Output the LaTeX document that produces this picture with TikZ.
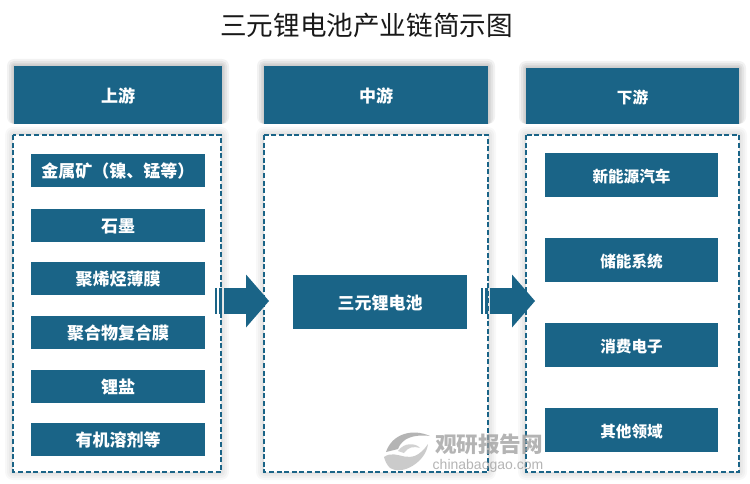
\documentclass[tikz,border=0pt]{standalone}
\usepackage{fontspec}
\setmainfont{Noto Sans CJK SC}
\newfontfamily\latinf{Liberation Sans}
\usetikzlibrary{calc}
\definecolor{teal}{HTML}{1A6487}
\definecolor{wm}{HTML}{9C9C9C}
\tikzset{
  x=1pt,y=-1pt,
  header/.style={fill=teal,text=white,font=\fontsize{17}{17}\selectfont\bfseries,inner sep=0pt,outer sep=0pt},
  item/.style={fill=teal,text=white,font=\fontsize{17}{17}\selectfont\bfseries,inner sep=0pt,outer sep=0pt},
  smallitem/.style={item,font=\fontsize{15.6}{16}\selectfont\bfseries},
  panel/.style={draw=teal,line width=1.2pt,dash pattern=on 5pt off 2.6pt,fill=white},
  bigarrow/.pic={
    \fill[teal] (-31,-13) rectangle (-9,13);
    \fill[teal] (-9,-26.5) -- (14,0) -- (-9,26.5) -- cycle;
    \fill[teal] (-40,-13) rectangle (-38.5,13);
    \fill[teal] (-36.5,-13) rectangle (-33,13);
  }
}
\newcommand{\softshadow}[4]{%
  \foreach \k in {8,6,4,2}{%
    \fill[black,opacity=0.028,rounded corners=\k pt] (#1-\k,#2-\k) rectangle (#3+\k,#4+\k);}}
\newcommand{\headshadow}[4]{%
  \foreach \k in {7,5,3,1.5}{%
    \fill[black,opacity=0.05,rounded corners=\k pt] (#1-\k,#2-\k) rectangle (#3+\k,#4);}}
\newcommand{\boxat}[7]{\node[#1,minimum width=#4-#2,minimum height=#5-#3,anchor=north west] (#6) at (#2,#3) {\raisebox{-7.2pt}[0pt][0pt]{#7}};}
\begin{document}
\begin{tikzpicture}
\useasboundingbox (0,0) rectangle (750,484);
\fill[white] (0,0) rectangle (750,484);
\softshadow{13}{135}{221}{472}
\softshadow{264}{135}{488}{472}
\softshadow{526}{135}{739}{472}
\headshadow{14}{66}{222}{124}
\headshadow{264}{66}{488}{124}
\headshadow{526}{68}{739}{124}

\node[font=\fontsize{26.6}{27}\selectfont,text=black!90,anchor=center] (title) at (366.5,25) {三元锂电池产业链简示图};

\boxat{header}{14}{66}{222}{124}{hup}{上游}
\boxat{header}{264}{66}{488}{124}{hmid}{中游}
\boxat{smallitem}{526}{68}{739}{124}{hdown}{下游}

\draw[panel] (13,135) rectangle (221,472);
\draw[panel] (264,135) rectangle (488,472);
\draw[panel] (526,135) rectangle (739,472);

\boxat{item}{31}{154}{205}{187}{a1}{金属矿（镍、锰等）}
\boxat{item}{31}{209}{205}{242}{a2}{石墨}
\boxat{item}{31}{262}{205}{295}{a3}{聚烯烃薄膜}
\boxat{item}{31}{316}{205}{349}{a4}{聚合物复合膜}
\boxat{item}{31}{370}{205}{403}{a5}{锂盐}
\boxat{item}{31}{423}{205}{456}{a6}{有机溶剂等}

\boxat{item}{293}{275}{467}{329}{b1}{三元锂电池}

\boxat{smallitem}{545}{153}{718}{197}{c1}{新能源汽车}
\boxat{smallitem}{545}{238}{718}{282}{c2}{储能系统}
\boxat{smallitem}{545}{323}{718}{367}{c3}{消费电子}
\boxat{smallitem}{545}{408}{718}{452}{c4}{其他领域}

\pic at (255,301) {bigarrow};
\pic at (521,301) {bigarrow};

% watermark
\begin{scope}[opacity=.75]
\fill[wm] (386,452) .. controls (392,434) and (412,428) .. (430,436) .. controls (414,434) and (402,438) .. (398,449) .. controls (394,450) and (390,451) .. (386,452) -- cycle;
\fill[wm!70] (384,457) .. controls (398,447) and (410,470) .. (428,444) .. controls (426,462) and (402,476) .. (390,468) .. controls (387,465) and (385,461) .. (384,457) -- cycle;
\fill[wm!60] (398,451) .. controls (404,442) and (416,443) .. (420,448) .. controls (414,446) and (408,447) .. (404,453) -- cycle;
\node[font=\fontsize{21.6}{22}\selectfont\bfseries,text=wm,anchor=center,inner sep=0pt] (wmcn) at (489,444) {观研报告网};
\node[font=\fontsize{14}{14}\selectfont\latinf,text=wm,anchor=center,inner sep=0pt] (wmen) at (488,466) {chinabaogao.com};
\end{scope}
\end{tikzpicture}
\end{document}
